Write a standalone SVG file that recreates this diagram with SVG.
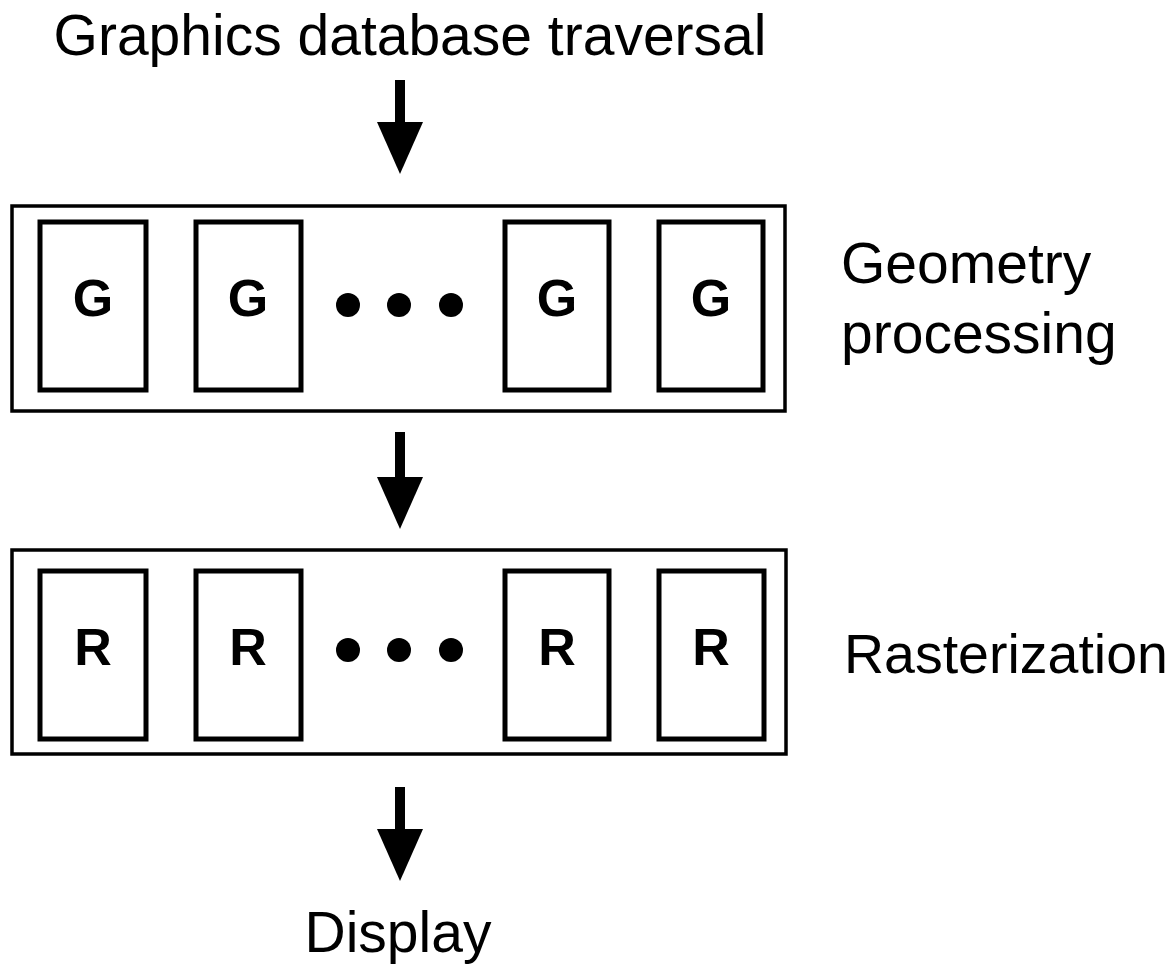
<svg xmlns="http://www.w3.org/2000/svg" width="1176" height="965" viewBox="0 0 1176 965">
<style>
.outer{fill:none;stroke:#000;stroke-width:3.5}
.unit{fill:#fff;stroke:#000;stroke-width:5}
.lbl{font-family:"Liberation Sans",Arial,sans-serif;font-size:57px;fill:#000}
.ul{font-family:"Liberation Sans",Arial,sans-serif;font-size:52px;font-weight:bold;fill:#000;text-anchor:middle}
.dot{fill:#000}
</style>
<defs>
<marker id="ah" viewBox="0 0 52 46" refX="0" refY="23" markerWidth="52" markerHeight="46" markerUnits="userSpaceOnUse" orient="auto">
<path d="M0,0 L52,23 L0,46 Z" fill="#000"/>
</marker>
</defs>
<rect width="1176" height="965" fill="#fff"/>
<text class="lbl" x="410" y="55" text-anchor="middle">Graphics database traversal</text>
<g id="geometry">
<rect class="outer" x="12" y="206" width="773" height="205"/>
<g id="g1"><rect class="unit" x="40" y="222" width="106" height="168"/><text class="ul" x="93" y="316">G</text></g>
<g id="g2"><rect class="unit" x="196" y="222" width="105" height="168"/><text class="ul" x="248" y="316">G</text></g>
<g id="gdots"><circle class="dot" cx="348" cy="305" r="12"/><circle class="dot" cx="399" cy="305" r="12"/><circle class="dot" cx="451" cy="305" r="12"/></g>
<g id="g3"><rect class="unit" x="505" y="222" width="104" height="168"/><text class="ul" x="557" y="316">G</text></g>
<g id="g4"><rect class="unit" x="659" y="222" width="104" height="168"/><text class="ul" x="711" y="316">G</text></g>
</g>
<text class="lbl" x="841" y="283">Geometry</text>
<text class="lbl" x="841" y="353">processing</text>
<g id="raster">
<rect class="outer" x="12" y="550" width="774" height="204"/>
<g id="r1"><rect class="unit" x="40" y="571" width="106" height="168"/><text class="ul" x="93" y="665">R</text></g>
<g id="r2"><rect class="unit" x="196" y="571" width="105" height="168"/><text class="ul" x="248" y="665">R</text></g>
<g id="rdots"><circle class="dot" cx="348" cy="650" r="12"/><circle class="dot" cx="399" cy="650" r="12"/><circle class="dot" cx="451" cy="650" r="12"/></g>
<g id="r3"><rect class="unit" x="505" y="571" width="104" height="168"/><text class="ul" x="557" y="665">R</text></g>
<g id="r4"><rect class="unit" x="659" y="571" width="105" height="168"/><text class="ul" x="711" y="665">R</text></g>
</g>
<text class="lbl" x="844" y="673" style="font-size:55.5px">Rasterization</text>
<text class="lbl" x="398" y="952" text-anchor="middle">Display</text>
<g id="connectors" stroke="#000" stroke-width="10" fill="none">
<line x1="400" y1="80" x2="400" y2="122" marker-end="url(#ah)"/>
<line x1="400" y1="432" x2="400" y2="477" marker-end="url(#ah)"/>
<line x1="400" y1="787" x2="400" y2="829" marker-end="url(#ah)"/>
</g>
</svg>
